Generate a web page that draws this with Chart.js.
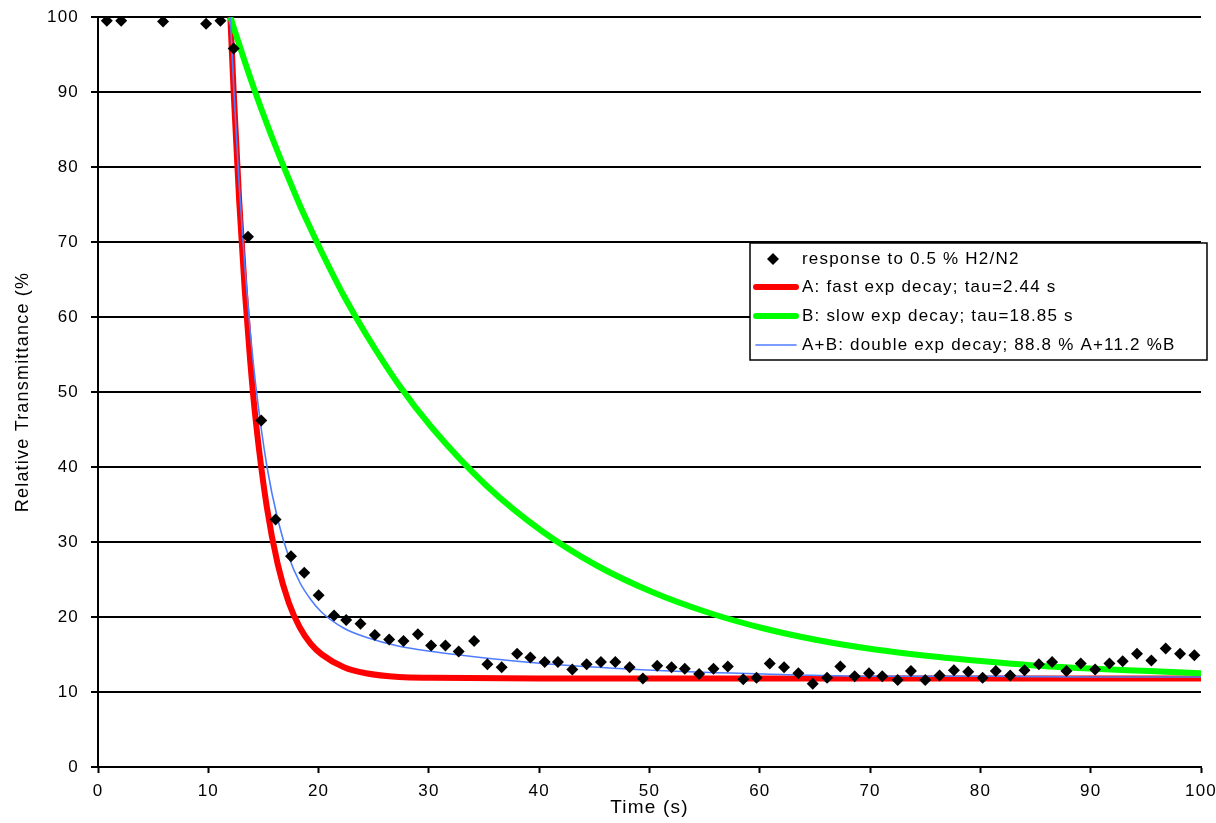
<!DOCTYPE html>
<html>
<head>
<meta charset="utf-8">
<script src="https://cdn.jsdelivr.net/npm/chart.js@4.4.0/dist/chart.umd.min.js"></script>
<style>
  html, body { margin: 0; padding: 0; background: #fff; }
</style>
</head>
<body>
<canvas id="myChart" width="1216" height="823"></canvas>
<script>
// measured response, time (s) / relative transmittance (%)
const tiempoDatos = [0.8, 2.1, 5.9, 9.8, 11.1, 12.3, 13.6, 14.8, 16.1, 17.5, 18.7, 20.0, 21.4, 22.5, 23.8,
    25.1, 26.4, 27.7, 29.0, 30.2, 31.5, 32.7, 34.1, 35.3, 36.6, 38.0, 39.2, 40.5, 41.7, 43.0,
    44.3, 45.6, 46.9, 48.2, 49.4, 50.7, 52.0, 53.2, 54.5, 55.8, 57.1, 58.5, 59.7, 60.9, 62.2,
    63.5, 64.8, 66.1, 67.3, 68.6, 69.9, 71.1, 72.5, 73.7, 75.0, 76.3, 77.6, 78.9, 80.2, 81.4,
    82.7, 84.0, 85.3, 86.5, 87.8, 89.1, 90.4, 91.7, 92.9, 94.2, 95.5, 96.8, 98.1, 99.4]
const valoresDatos = [99.5, 99.5, 99.4, 99.1, 99.5, 95.8, 70.7, 46.2, 33.0, 28.1, 25.9, 22.9, 20.2, 19.6, 19.1,
    17.6, 17.0, 16.8, 17.7, 16.2, 16.2, 15.4, 16.8, 13.7, 13.3, 15.1, 14.6, 14.0, 14.0, 13.0,
    13.7, 14.0, 14.0, 13.3, 11.8, 13.5, 13.3, 13.1, 12.4, 13.1, 13.4, 11.7, 11.9, 13.8, 13.3,
    12.5, 11.1, 11.9, 13.4, 12.1, 12.5, 12.1, 11.6, 12.8, 11.6, 12.2, 12.9, 12.7, 11.9, 12.8,
    12.2, 12.9, 13.7, 14.0, 12.8, 13.8, 13.0, 13.8, 14.1, 15.1, 14.2, 15.8, 15.1, 14.9]

// A: fast decay
const tiempoA = [12.0, 12.3, 12.8, 13.3, 13.8, 14.3, 15.3, 16.3, 17.3, 18.3, 19.3, 20.3, 22.3, 24.3, 27.3, 30.3, 40, 60, 80, 100]
const valoresA = [100, 90.0, 75.5, 63.7, 54.1, 46.2, 34.7, 27.0, 21.9, 18.6, 16.4, 15.0, 13.3, 12.5, 12.0, 11.9, 11.8, 11.8, 11.8, 11.8]

// B: slow decay
const tiempoB = [12.0, 12.3, 13.3, 14.3, 15.3, 16.3, 17.3, 18.3, 19.3, 20.3, 22.3, 24.3, 27.3, 30.3, 35.3,
    40.3, 45.3, 50.3, 55.3, 60.3, 65.3, 70.3, 75.3, 80.3, 85.3, 90.3, 95.3, 100]
const valoresB = [100, 98.6, 94.1, 89.8, 85.8, 82.0, 78.4, 74.9, 71.7, 68.6, 62.8, 57.7, 50.9, 45.2, 37.4,
    31.4, 26.8, 23.3, 20.6, 18.5, 16.9, 15.7, 14.8, 14.1, 13.5, 13.1, 12.8, 12.5]

// A+B: double decay
const tiempoAB = [12.0, 12.3, 12.8, 13.3, 13.8, 14.3, 15.3, 16.3, 17.3, 18.3, 19.3, 20.3, 22.3, 24.3, 27.3,
    30.3, 35.3, 40.3, 45.3, 50.3, 60.3, 70.3, 80.3, 90.3, 100]
const valoresAB = [100, 90.7, 77.6, 66.9, 58.1, 50.9, 40.2, 33.0, 28.0, 24.6, 22.3, 20.6, 18.5, 17.3, 16.1,
    15.4, 14.5, 13.8, 13.3, 12.9, 12.4, 12.1, 12.1, 12.0, 12.0]

const etiquetas = [
    'response to 0.5 % H2/N2',
    'A: fast exp decay; tau=2.44 s',
    'B: slow exp decay; tau=18.85 s',
    'A+B: double exp decay; 88.8 % A+11.2 %B'
]

function puntos(xs, ys) {
    return xs.map((x, i) => ({ x: x, y: ys[i] }))
}

const fuente = 'Liberation Sans, Arial, sans-serif'

// wider letters like the old excel export
const espaciado = {
    id: 'espaciado',
    beforeDraw(chart) {
        chart.ctx.letterSpacing = '1.2px'
    }
}

// legend box inside the plot
const leyenda = {
    id: 'leyenda',
    afterDraw(chart) {
        const ctx = chart.ctx
        ctx.save()
        ctx.fillStyle = '#fff'
        ctx.fillRect(750, 243, 457, 117)
        ctx.strokeStyle = '#000'
        ctx.lineWidth = 1.5
        ctx.strokeRect(750, 243, 457, 117)

        const filas = [259, 287, 316, 345]
        chart.data.datasets.forEach((ds, i) => {
            const y = filas[i]
            if (i === 0) {
                ctx.fillStyle = '#000'
                ctx.beginPath()
                ctx.moveTo(773, y - 6)
                ctx.lineTo(779, y)
                ctx.lineTo(773, y + 6)
                ctx.lineTo(767, y)
                ctx.closePath()
                ctx.fill()
            } else {
                ctx.strokeStyle = ds.borderColor
                ctx.lineWidth = ds.borderWidth
                ctx.lineCap = 'round'
                ctx.beginPath()
                ctx.moveTo(756, y)
                ctx.lineTo(796, y)
                ctx.stroke()
            }
            ctx.fillStyle = '#000'
            ctx.font = '17px ' + fuente
            ctx.textAlign = 'left'
            ctx.textBaseline = 'middle'
            ctx.fillText(ds.label, 802, y)
        })
        ctx.restore()
    }
}

const data = {
    datasets: [{
        label: etiquetas[0],
        data: puntos(tiempoDatos, valoresDatos),
        showLine: false,
        pointStyle: 'rectRot',
        pointRadius: 6,
        backgroundColor: '#000',
        borderColor: '#000',
        borderWidth: 0,
        order: 0
    }, {
        label: etiquetas[1],
        data: puntos(tiempoA, valoresA),
        showLine: true,
        borderColor: '#ff0000',
        borderWidth: 6,
        pointRadius: 0,
        cubicInterpolationMode: 'monotone',
        order: 3
    }, {
        label: etiquetas[2],
        data: puntos(tiempoB, valoresB),
        showLine: true,
        borderColor: '#00ff00',
        borderWidth: 6,
        pointRadius: 0,
        cubicInterpolationMode: 'monotone',
        order: 2
    }, {
        label: etiquetas[3],
        data: puntos(tiempoAB, valoresAB),
        showLine: true,
        borderColor: '#4f7dff',
        borderWidth: 1.6,
        pointRadius: 0,
        cubicInterpolationMode: 'monotone',
        order: 1
    }]
}

const config = {
    type: 'scatter',
    data: data,
    options: {
        responsive: false,
        animation: false,
        devicePixelRatio: 1,
        layout: { padding: { left: 0, right: 15, top: 17, bottom: 0 } },
        plugins: {
            legend: { display: false },
            tooltip: { enabled: false }
        },
        scales: {
            x: {
                type: 'linear',
                min: 0,
                max: 100,
                ticks: { stepSize: 10, color: '#000', padding: 8, maxRotation: 0, font: { family: fuente, size: 17 } },
                grid: { drawOnChartArea: false, drawTicks: true, tickLength: 6, tickColor: '#000', tickWidth: 2 },
                border: { color: '#000', width: 2 },
                title: { display: true, text: 'Time (s)', color: '#000', font: { family: fuente, size: 19 }, padding: { top: 0, bottom: 4 } },
                afterFit(s) {
                    s.height = 56
                    s.paddingLeft = 0
                    s.paddingRight = 0
                }
            },
            y: {
                min: 0,
                max: 100,
                ticks: { stepSize: 10, color: '#000', padding: 12, font: { family: fuente, size: 17 } },
                grid: { color: '#000', lineWidth: 2, tickLength: 7, tickColor: '#000', tickWidth: 2 },
                border: { color: '#000', width: 2 },
                title: { display: true, text: 'Relative Transmittance (%', color: '#000', font: { family: fuente, size: 18 }, padding: { top: 12, bottom: 0 } },
                afterFit(s) {
                    s.width = 98
                    s.paddingTop = 0
                    s.paddingBottom = 0
                }
            }
        }
    },
    plugins: [espaciado, leyenda]
}

const myChart = new Chart(document.getElementById('myChart'), config)
</script>
</body>
</html>
